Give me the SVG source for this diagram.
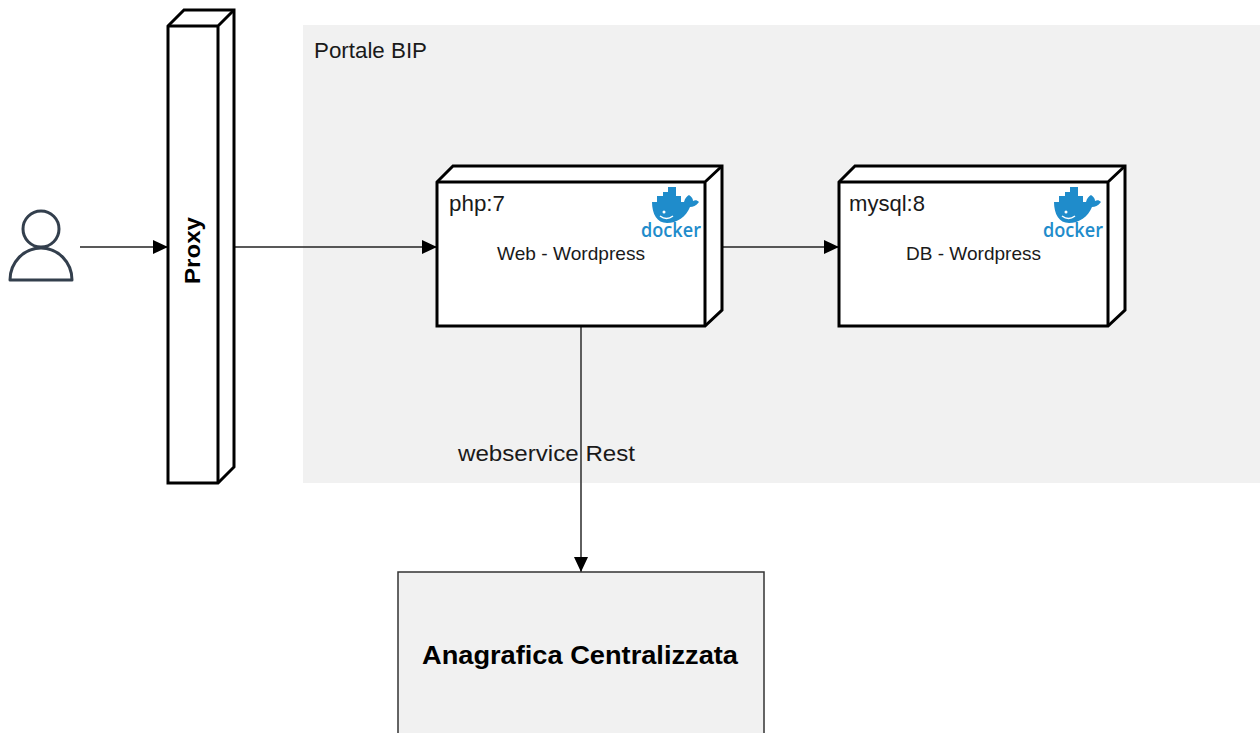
<svg xmlns="http://www.w3.org/2000/svg" width="1260" height="733" viewBox="0 0 1260 733">
<style>
text{font-family:"Liberation Sans",Arial,sans-serif;fill:#1a1a1a}
.box{fill:#fff;stroke:#000;stroke-width:3;stroke-linejoin:miter}
.edge{fill:none;stroke:#000;stroke-width:3}
.conn{fill:none;stroke:#222;stroke-width:1.4}
.lbl{font-size:22px}
.sm{font-size:19px}
.dk{font-family:"Open Sans",sans-serif;font-size:19px;fill:#1f8ccb;font-weight:600}
.bold{font-weight:bold;fill:#000}
</style>
<defs>
<marker id="arrow" markerUnits="userSpaceOnUse" markerWidth="16" markerHeight="16" refX="15" refY="8" orient="auto">
<path d="M0,1 L15,8 L0,15 Z" fill="#000"/>
</marker>
<g id="docker">
<path d="M12,15 H17 V9 H23 V5 H28 V0 H36 V9 H41 V15 H44 C45,11 47,9 49,8 C52,10 53,12 53,14 C55,13 57,13 59,15 C56,19 53,20 50,20 C46,30 37,36 27,36 C17,36 12,27 12,15 Z" fill="#1f8ccb"/>
<path d="M20,29 C24,32 29,32 33,29" fill="none" stroke="#fff" stroke-width="1.500"/>
<circle cx="24" cy="25" r="1.500" fill="#fff"/>
<text class="dk" x="1" y="50" textLength="60" lengthAdjust="spacingAndGlyphs">docker</text>
</g>
</defs>
<rect id="portale-bg" x="303" y="25" width="957" height="458" fill="#f1f1f1"/>
<text id="portale-label" class="lbl" x="314" y="58" textLength="113" lengthAdjust="spacingAndGlyphs">Portale BIP</text>
<g id="connectors">
<path class="conn" d="M80,247 H168" marker-end="url(#arrow)"/>
<path class="conn" d="M234,247 H437" marker-end="url(#arrow)"/>
<path class="conn" d="M722,247 H839" marker-end="url(#arrow)"/>
<path class="conn" d="M581,326 V572" marker-end="url(#arrow)" style="stroke-width:1.700;stroke:#444"/>
</g>
<text id="rest-label" class="lbl" x="458" y="461" textLength="177" lengthAdjust="spacingAndGlyphs">webservice Rest</text>
<g id="user" fill="none" stroke="#333f4d" stroke-width="3">
<circle cx="41" cy="229" r="18"/>
<path d="M10,280 A31,32 0 0 1 72,280 Z" stroke-linejoin="round"/>
</g>
<g id="proxy">
<path class="box" d="M168,26 L184,10 H234 V467 L218,483 H168 Z"/>
<path class="edge" d="M168,26 H218 V483 M218,26 L234,10"/>
<text class="bold" font-size="22" transform="translate(200,284) rotate(-90)" textLength="67" lengthAdjust="spacingAndGlyphs">Proxy</text>
</g>
<g id="web">
<path class="box" d="M437,182 L453,166 H722 V310 L705,326 H437 Z"/>
<path class="edge" d="M437,182 H705 V326 M705,182 L722,166"/>
<text class="lbl" x="449" y="211" textLength="56" lengthAdjust="spacingAndGlyphs">php:7</text>
<text class="sm" x="497" y="260" textLength="148" lengthAdjust="spacingAndGlyphs">Web - Wordpress</text>
<use href="#docker" x="640" y="187"/>
</g>
<g id="db">
<path class="box" d="M839,182 L855,166 H1125 V310 L1108,326 H839 Z"/>
<path class="edge" d="M839,182 H1108 V326 M1108,182 L1125,166"/>
<text class="lbl" x="849" y="211" textLength="76" lengthAdjust="spacingAndGlyphs">mysql:8</text>
<text class="sm" x="906" y="260" textLength="135" lengthAdjust="spacingAndGlyphs">DB - Wordpress</text>
<use href="#docker" x="1042" y="187"/>
</g>
<g id="anagrafica">
<rect x="398" y="572" width="366" height="175" fill="#f1f1f1" stroke="#333" stroke-width="1.500"/>
<text class="bold" font-size="26" x="422" y="664" textLength="316" lengthAdjust="spacingAndGlyphs">Anagrafica Centralizzata</text>
</g>
</svg>
